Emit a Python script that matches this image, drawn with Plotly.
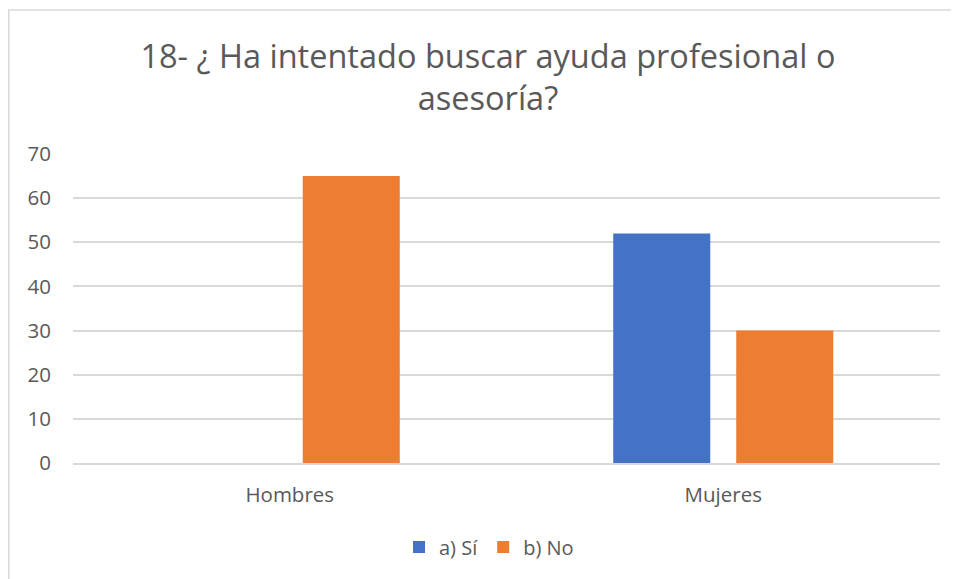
import plotly.graph_objects as go

categories = ["Hombres", "Mujeres"]
series_names = ["a) Sí", "b) No"]
si_values = [0, 52]
no_values = [65, 30]
y_ticks = [0, 10, 20, 30, 40, 50, 60, 70]

title_text = "18- ¿ Ha intentado buscar ayuda profesional o<br>asesoría?"
FONT = "Open Sans"
TXT = "#595959"

fig = go.Figure()
fig.add_trace(go.Bar(x=categories, y=si_values, name=series_names[0],
                     marker=dict(color="#4472C4", line=dict(width=0))))
fig.add_trace(go.Bar(x=categories, y=no_values, name=series_names[1],
                     marker=dict(color="#ED7D31", line=dict(width=0))))

# the page body has an 8px margin, so the figure is sized/offset accordingly
W, H = 951, 571
L, R, T, B = 65, 19, 146, 116
pw, ph = W - L - R, H - T - B

def px_x(v):
    return (v - L) / pw

def px_y(v):
    return (H - B - v) / ph

fig.update_layout(
    width=W, height=H,
    margin=dict(l=L, r=R, t=T, b=B, pad=0),
    paper_bgcolor="white", plot_bgcolor="white",
    font=dict(family=FONT, color=TXT, size=20),
    barmode="group", bargap=0.4325, bargroupgap=0.211,
    title=dict(text=title_text, xref="container", x=480 / W, xanchor="center",
               yref="container", y=1 - 60 / H, yanchor="middle",
               font=dict(family=FONT, size=32.5, color=TXT)),
    showlegend=True,
    legend=dict(orientation="h", xref="container", x=481 / W, xanchor="center",
                yref="container", y=1 - 539 / H, yanchor="middle",
                font=dict(family=FONT, size=20, color=TXT),
                itemwidth=30, traceorder="normal"),
    xaxis=dict(showgrid=False, showline=True, linecolor="#D9D9D9", linewidth=1.5,
               ticks="", tickfont=dict(family=FONT, size=20.5, color=TXT),
               ticklabelstandoff=13),
    yaxis=dict(range=[0, 70], tickvals=y_ticks, showgrid=True, gridcolor="#D9D9D9",
               gridwidth=1.5, zeroline=False, showline=False, ticks="",
               tickfont=dict(family=FONT, size=20.5, color=TXT),
               ticklabelstandoff=21),
    shapes=[dict(type="rect", xref="paper", yref="paper",
                 x0=px_x(0.75), x1=px_x(970), y0=px_y(590), y1=px_y(2),
                 line=dict(color="#D9D9D9", width=1.5), fillcolor="rgba(0,0,0,0)",
                 layer="below")],
)

fig.write_html("out.html")
